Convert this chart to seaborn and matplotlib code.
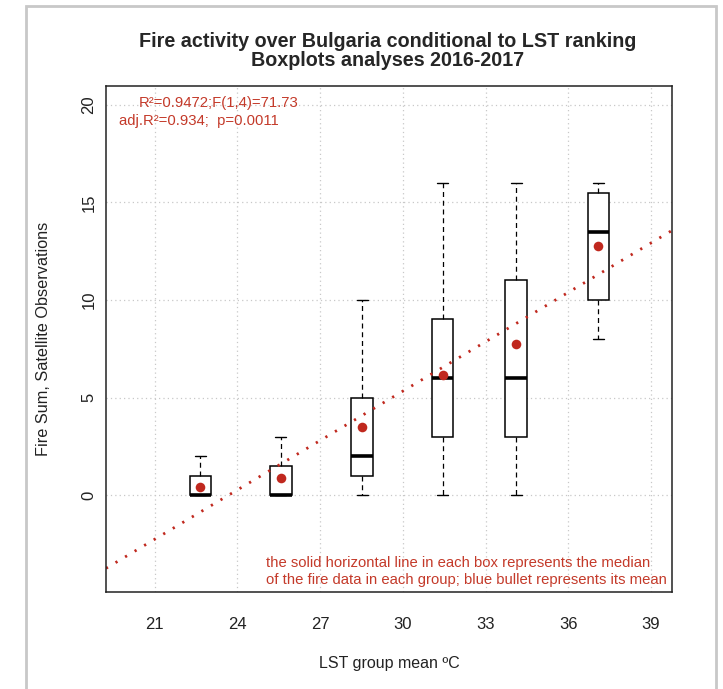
import matplotlib
matplotlib.use('Agg')
import matplotlib.pyplot as plt
import matplotlib.patches as mpatches
import seaborn as sns
import numpy as np

# LST group means (x positions of the boxes)
lst_mean = [22.66, 25.58, 28.53, 31.44, 34.11, 37.09]
# box statistics of fire counts in each group
fire_whislo = [0, 0, 0, 0, 0, 8]
fire_q1 = [0, 0, 1, 3, 3, 10]
fire_med = [0, 0, 2, 6, 6, 13.5]
fire_q3 = [1, 1.5, 5, 9, 11, 15.5]
fire_whishi = [2, 3, 10, 16, 16, 16]
fire_mean = [0.41, 0.89, 3.51, 6.17, 7.74, 12.75]

x_ticks = [21, 24, 27, 30, 33, 36, 39]
y_ticks = [0, 5, 10, 15, 20]

red = '#C0281E'
txt_red = '#C43A2A'

sns.set_style("white")
plt.rcParams['font.family'] = ['Liberation Sans', 'DejaVu Sans']

fig = plt.figure(figsize=(7.23, 6.89), dpi=100)
ax = fig.add_axes([106 / 723, 1 - 592 / 689, 566 / 723, 506 / 689])
ax.set_xlim(19.24, 39.76)
ax.set_ylim(-4.96, 20.96)

# grid
for xv in x_ticks:
    ax.axvline(xv, color='#c8c8c8', lw=0.9, ls=(0, (1, 2.5)), zorder=0)
for yv in y_ticks:
    ax.axhline(yv, color='#c8c8c8', lw=0.9, ls=(0, (1, 2.5)), zorder=0)

# boxes
stats = []
for i in range(len(lst_mean)):
    stats.append(dict(whislo=fire_whislo[i], q1=fire_q1[i], med=fire_med[i],
                      q3=fire_q3[i], whishi=fire_whishi[i], fliers=[]))
ax.bxp(stats, positions=lst_mean, widths=0.78, showfliers=False,
       manage_ticks=False, patch_artist=True,
       boxprops=dict(facecolor='white', edgecolor='black', lw=1.1),
       medianprops=dict(color='black', lw=2.6, solid_capstyle='butt'),
       whiskerprops=dict(color='black', lw=0.9, ls=(0, (4, 3))),
       capprops=dict(color='black', lw=1.0), capwidths=0.39)

# regression of group means
sns.regplot(x=lst_mean, y=fire_mean, ax=ax, scatter=False, ci=None, truncate=False,
            line_kws=dict(color=red, lw=2.0, ls=(0, (0.8, 3.2))))
ax.set_xlim(19.24, 39.76)

# mean bullets
sns.scatterplot(x=lst_mean, y=fire_mean, ax=ax, color=red, s=48, edgecolor=red,
                linewidth=0, zorder=5)

ax.set_xticks(x_ticks)
ax.set_yticks(y_ticks)
ax.set_xticklabels([str(v) for v in x_ticks])
ax.set_yticklabels([str(v) for v in y_ticks], rotation=90, va='center')
ax.tick_params(axis='both', which='both', direction='out', length=5, width=0.9,
               colors='#333333', labelsize=12, labelcolor='#222222')
ax.tick_params(axis='x', pad=13)
ax.tick_params(axis='y', pad=2)
for s in ax.spines.values():
    s.set_color('#222222')
    s.set_linewidth(1.1)

ax.set_xlabel('LST group mean ºC', fontsize=11.5, labelpad=17, color='#222222')
ax.set_ylabel('Fire Sum, Satellite Observations', fontsize=11.7, labelpad=22, color='#222222')

ax.text(0.058, 0.966, 'R²=0.9472;F(1,4)=71.73', transform=ax.transAxes,
        color=txt_red, fontsize=10.7, va='center', ha='left')
ax.text(0.023, 0.931, 'adj.R²=0.934;  p=0.0011', transform=ax.transAxes,
        color=txt_red, fontsize=10.7, va='center', ha='left')
ax.text(0.283, 0.057, 'the solid horizontal line in each box represents the median',
        transform=ax.transAxes, color=txt_red, fontsize=10.7, va='center', ha='left')
ax.text(0.283, 0.023, 'of the fire data in each group; blue bullet represents its mean',
        transform=ax.transAxes, color=txt_red, fontsize=10.7, va='center', ha='left')

fig.text(388 / 723, 1 - 51 / 689,
         'Fire activity over Bulgaria conditional to LST ranking\nBoxplots analyses 2016-2017',
         ha='center', va='center', fontsize=14.2, fontweight='bold', linespacing=1.05)

# light grey frame around the figure
fig.add_artist(mpatches.Rectangle((26 / 723, -0.05), 690 / 723, 1.05 - 6 / 689,
                                  transform=fig.transFigure, fill=False,
                                  edgecolor='#c8c8c8', lw=2))

fig.savefig('out.png', dpi=100)
